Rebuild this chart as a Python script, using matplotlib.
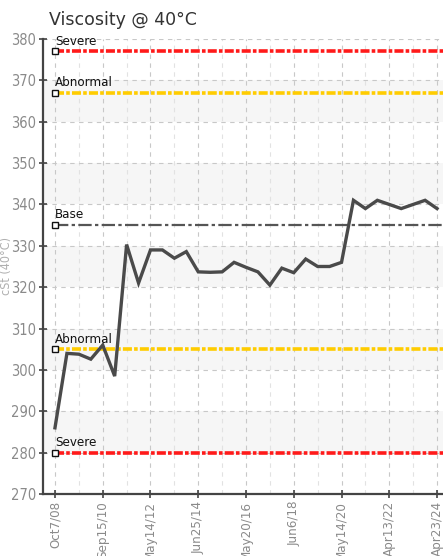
import matplotlib
matplotlib.use("Agg")
import matplotlib.pyplot as plt
import numpy as np

# Data
values = [286, 304, 303.8, 302.6, 306, 298.5, 330.3, 321, 329, 329,
          327, 328.6, 323.7, 323.6, 323.7, 326, 324.8, 323.7, 320.5, 324.6,
          323.5, 326.8, 325, 325, 326, 341, 339, 341, 340, 339,
          340, 341, 339]
tick_labels = ['Oct7/08', 'Sep15/10', 'May14/12', 'Jun25/14', 'May20/16',
               'Jun6/18', 'May14/20', 'Apr13/22', 'Apr23/24']
tick_every = 4

limit_names = ['Severe', 'Abnormal', 'Base', 'Abnormal', 'Severe']
limit_values = [377, 367, 335, 305, 280]
limit_colors = ['#ff1a1a', '#ffcc00', '#555555', '#ffcc00', '#ff1a1a']

COND = dict(family='DejaVu Sans', stretch='condensed')


def main():
    fig = plt.figure(figsize=(4.43, 5.56), dpi=100)
    ax = fig.add_axes([0.0977, 0.1115, 0.9023, 0.8184])

    x = np.arange(len(values))

    # light alternating bands
    for lo in range(280, 380, 20):
        ax.axhspan(lo, lo + 10, color='#f6f6f6', zorder=0, lw=0)

    # grid
    ax.set_xticks(x[::tick_every])
    ax.set_xticks(x[::2], minor=True)
    ax.grid(True, which='major', color='#c8c8c8', ls=(0, (4, 4)), lw=0.8, zorder=1)
    ax.grid(True, which='minor', axis='x', color='#e2e2e2', ls=(0, (4, 4)), lw=0.8, zorder=1)

    # limit lines
    for name, val, col in zip(limit_names, limit_values, limit_colors):
        if name == 'Base':
            ax.plot([0, x[-1] + 1], [val, val], color=col, lw=1.6,
                    ls=(0, (6, 1.5, 1.5, 1.5)), zorder=3)
        else:
            ax.plot([0, x[-1] + 1], [val, val], color=col, lw=2.6,
                    ls=(0, (2.5, 0.6, 1, 0.6)), zorder=3)
        ax.plot([0], [val], marker='s', ms=4.5, mfc='white', mec='#111111',
                mew=1.0, ls='none', zorder=5)
        ax.text(0, val + 0.9, name, fontsize=9.5, color='#111111',
                ha='left', va='bottom', zorder=6, **COND)

    # series
    ax.plot(x, values, color='#4a4a4a', lw=2.4, solid_joinstyle='miter', zorder=4)

    ax.set_xlim(-0.98, x[-1] + 0.5)
    ax.set_ylim(270, 380)
    ax.set_yticks(np.arange(270, 381, 10))

    ax.set_xticklabels(tick_labels, rotation=90, fontsize=9.5, color='#8a8a8a', **COND)
    for lab in ax.get_yticklabels():
        lab.set_family('DejaVu Sans')
        lab.set_stretch('condensed')
        lab.set_fontsize(10.5)
        lab.set_color('#8a8a8a')

    ax.tick_params(axis='both', which='major', direction='inout', length=6,
                   width=1.2, color='#444444', pad=2)
    ax.tick_params(axis='x', which='minor', length=0)

    for side in ['top', 'right']:
        ax.spines[side].set_visible(False)
    for side in ['left', 'bottom']:
        ax.spines[side].set_color('#444444')
        ax.spines[side].set_linewidth(1.6)

    ax.set_ylabel('cSt (40°C)', fontsize=9, color='#b0b0b0', **COND)
    ax.yaxis.set_label_coords(-0.076, 0.5)

    fig.text(0.111, 0.955, 'Viscosity @ 40°C', fontsize=12.5, color='#333333',
             ha='left', va='baseline')

    fig.savefig('out.png', dpi=100)


if __name__ == "__main__":
    main()
